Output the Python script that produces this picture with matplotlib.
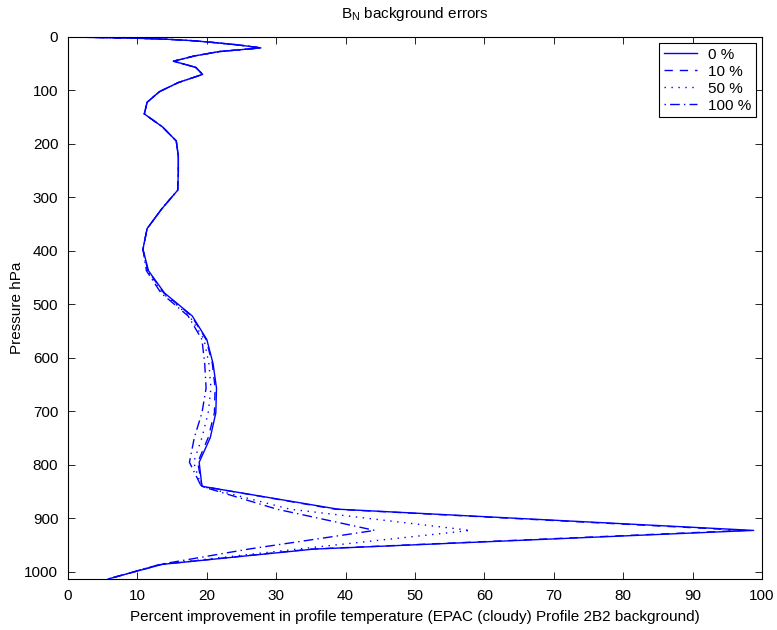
import matplotlib
matplotlib.use("Agg")
import matplotlib.pyplot as plt

plt.rcParams["font.family"] = ["Liberation Sans", "DejaVu Sans"]
plt.rcParams["mathtext.fontset"] = "custom"
plt.rcParams["mathtext.rm"] = "Liberation Sans"
plt.rcParams["mathtext.it"] = "Liberation Sans:italic"

# 43 pressure levels (hPa)
pressure = [0.10, 0.29, 0.69, 1.42, 2.61, 4.41, 6.95, 10.37, 14.81, 20.40,
            27.26, 35.51, 45.29, 56.73, 69.97, 85.18, 102.05, 122.04, 143.84, 167.95,
            194.36, 222.94, 253.71, 286.60, 321.50, 358.28, 396.81, 436.95, 478.54, 521.46,
            565.54, 610.60, 656.43, 702.73, 749.12, 795.09, 839.95, 882.80, 922.46, 957.44,
            985.88, 1005.43, 1013.25]

# common upper part (levels 0.1 .. 396.81 hPa)
upper = [0.0, 1.0, 3.0, 6.0, 10.5, 14.5, 18.0, 21.0, 24.5, 27.8,
         21.8, 18.2, 15.2, 18.4, 19.4, 15.9, 13.2, 11.4, 11.0, 13.6,
         15.6, 15.9, 15.9, 15.8, 13.5, 11.4, 10.8]

# lower part (levels 436.95 .. 1013.25 hPa) for each error level
lower_0 = [11.6, 13.9, 17.9, 20.0, 20.9, 21.4, 21.3, 20.5, 18.9, 19.3,
           38.9, 98.8, 35.4, 13.6, 8.0, 5.8]
lower_10 = [11.5, 13.8, 17.8, 19.9, 20.8, 21.2, 21.1, 20.2, 18.7, 19.3,
            38.5, 97.5, 35.0, 13.5, 8.0, 5.8]
lower_50 = [11.4, 13.6, 17.5, 19.6, 20.3, 20.6, 20.2, 19.3, 18.1, 19.2,
            32.0, 58.0, 33.0, 13.3, 7.9, 5.8]
lower_100 = [11.3, 13.4, 17.3, 19.3, 19.7, 19.9, 19.3, 18.2, 17.5, 19.2,
             30.1, 44.2, 26.0, 13.3, 7.9, 5.8]

labels = ["0 %", "10 %", "50 %", "100 %"]
styles = ["-", (0, (6, 5)), (0, (1, 4)), (0, (1, 3, 7, 3))]
series = [lower_0, lower_10, lower_50, lower_100]

fs = 11
fig = plt.figure(figsize=(7.77, 6.30), dpi=100)
ax = fig.add_axes([0.0875, 0.081, 0.8932, 0.8603])

for lab, ls, low in zip(labels, styles, series):
    ax.plot(upper + low, pressure, color=(0, 0, 1), linestyle=ls,
            linewidth=1.0, label=lab)

ax.set_xlim(0, 100)
ax.set_ylim(1013.25, 0)
ax.set_xticks(range(0, 101, 10))
ax.set_yticks(range(0, 1001, 100))
ax.tick_params(direction="in", top=True, right=True, labelsize=fs,
               length=5, width=0.6, pad=7)
for sp in ax.spines.values():
    sp.set_linewidth(0.8)

ax.set_xlabel("Percent improvement in profile temperature (EPAC (cloudy) Profile 2B2 background)",
              fontsize=fs, labelpad=5)
ax.set_ylabel("Pressure hPa", fontsize=fs, labelpad=0)
ax.set_title(r"B$_\mathrm{N}$ background errors", fontsize=fs, pad=14)

leg = ax.legend(loc="upper right", fontsize=fs, fancybox=False, framealpha=1,
                edgecolor="black", borderaxespad=0.4, handlelength=2.2,
                labelspacing=0.2, borderpad=0.3, handletextpad=0.7)
leg.get_frame().set_linewidth(0.8)

fig.savefig("out.png", dpi=100)
